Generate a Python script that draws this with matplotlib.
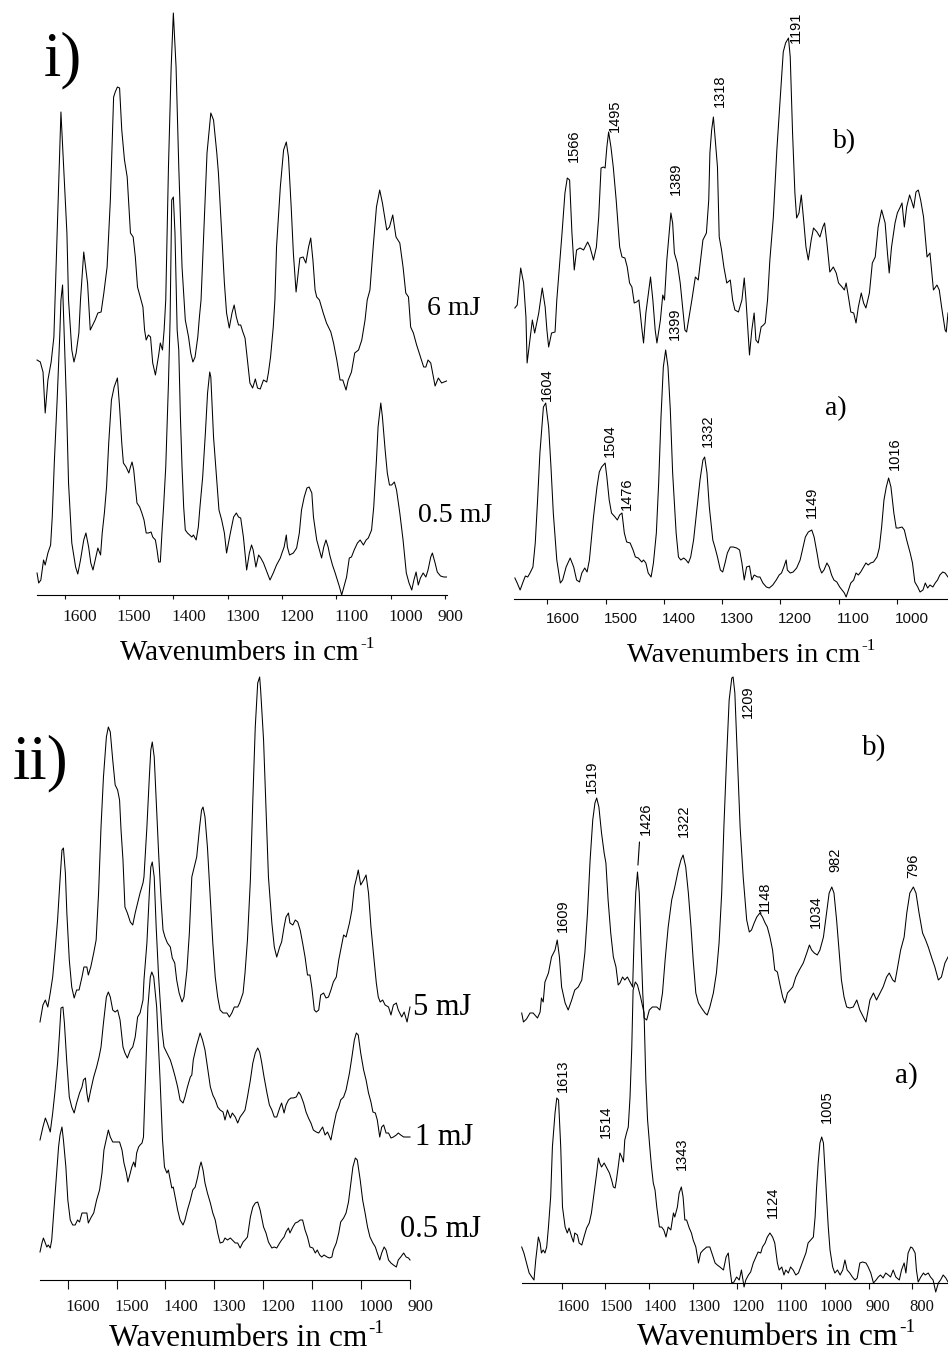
import numpy as np
import matplotlib
matplotlib.use("Agg")
import matplotlib.pyplot as plt
from matplotlib.transforms import ScaledTranslation

plt.rcParams['font.family'] = 'Liberation Serif'

# ---------------- DATA (wavenumber in cm-1, intensity in arbitrary units) ----------------
# panel i), left: two laser energies
i_6mJ = [(1651,53),(1645,51),(1640,41),(1636,0),(1631,33),(1625,51),(1620,76),(1607,301),(1602,246),(1596,180),
         (1593,113),(1587,63),(1583,51),(1579,60),(1574,80),(1571,113),(1565,161),(1558,130),(1553,83),(1544,93),
         (1539,100),(1533,101),(1528,120),(1522,146),(1516,213),(1510,316),(1507,321),(1503,326),(1499,325),(1495,283),
         (1490,253),(1485,236),(1479,180),(1474,176),(1470,156),(1466,126),(1461,116),(1456,106),(1453,83),(1450,73),
         (1446,78),(1442,76),(1438,50),(1433,38),(1427,58),(1424,70),(1420,63),(1417,83),(1414,113),(1409,246),
         (1404,346),(1400,400),(1395,346),(1390,246),(1384,146),(1378,93),(1372,76),(1368,60),(1364,51),(1360,56),
         (1355,76),(1352,96),(1349,113),(1344,180),(1338,260),(1331,300),(1326,293),(1320,260),(1317,240),(1311,180),
         (1306,130),(1302,100),(1297,85),(1292,100),(1288,108),(1284,96),(1280,88),(1276,88),(1272,81),(1268,75),
         (1264,55),(1259,30),(1254,25),(1249,34),(1245,25),(1240,24),(1234,33),(1228,31),(1225,40),(1221,56),
         (1216,86),(1213,113),(1210,166),(1203,226),(1197,263),(1192,271),(1188,256),(1183,206),(1179,160),(1174,121),
         (1170,140),(1167,155),(1161,156),(1156,150),(1151,166),(1147,175),(1143,153),(1139,123),(1136,116),(1131,113),
         (1124,100),(1118,90),(1110,81),(1105,70),(1099,53),(1093,33),(1088,33),(1082,23),(1078,33),(1072,41),
         (1066,60),(1059,63),(1053,73),(1047,93),(1043,113),(1038,123),(1032,166),(1026,206),(1020,223),(1015,210),
         (1007,183),(1002,186),(996,198),(990,176),(983,170),(977,146),(972,120),(967,116),(963,86),(958,80),
         (952,68),(946,58),(939,46),(935,46),(931,53),(926,50),(918,27),(912,35),(906,30),(897,32)]

i_05mJ = [(1651,22),(1648,12),(1644,15),(1639,35),(1636,30),(1631,42),(1626,50),(1623,78),(1619,135),(1614,195),
          (1609,262),(1607,295),(1604,310),(1597,195),(1593,112),(1587,52),(1580,28),(1576,21),(1571,35),(1565,55),
          (1561,62),(1556,48),(1552,32),(1548,25),(1544,35),(1539,47),(1534,40),(1531,62),(1527,82),(1523,108),
          (1519,152),(1514,195),(1509,208),(1503,217),(1499,188),(1495,152),(1492,132),(1487,128),(1482,122),(1479,128),
          (1476,133),(1473,125),(1470,108),(1467,92),(1462,88),(1458,82),(1454,75),(1450,62),(1446,62),(1441,63),
          (1438,58),(1433,55),(1430,45),(1427,33),(1424,33),(1421,62),(1418,88),(1414,128),(1409,212),(1406,275),
          (1403,395),(1400,398),(1397,362),(1393,265),(1390,245),(1387,178),(1384,128),(1381,88),(1378,65),(1374,62),
          (1370,60),(1366,58),(1363,60),(1358,55),(1354,68),(1351,88),(1346,118),(1341,162),(1337,202),(1333,223),
          (1331,218),(1326,158),(1320,115),(1316,85),(1311,75),(1306,62),(1302,42),(1295,62),(1289,78),(1284,82),
          (1280,78),(1276,77),(1271,58),(1265,25),(1260,42),(1256,50),(1253,45),(1248,28),(1243,40),(1239,37),
          (1234,32),(1229,25),(1222,15),(1216,22),(1210,30),(1203,37),(1200,42),(1196,48),(1192,60),(1190,48),
          (1186,40),(1179,42),(1173,47),(1168,62),(1164,85),(1159,98),(1154,107),(1150,108),(1145,102),(1142,78),
          (1136,55),(1131,45),(1127,37),(1123,48),(1119,55),(1115,48),(1112,40),(1107,30),(1102,22),(1098,15),
          (1094,8),(1090,0),(1086,8),(1081,18),(1076,37),(1072,38),(1067,45),(1061,52),(1056,55),(1050,50),
          (1045,55),(1041,57),(1035,65),(1031,88),(1026,135),(1023,168),(1018,192),(1015,178),(1010,145),(1006,122),
          (1002,110),(998,110),(993,113),(989,105),(983,82),(977,55),(971,22),(966,12),(961,5),(957,15),
          (953,23),(949,10),(945,17),(940,22),(935,18),(931,25),(926,38),(923,42),(918,32),(914,23),
          (908,19),(902,18),(897,18)]

# top right: b) and a)
ir_b = [(1656,55),(1652,58),(1646,95),(1641,80),(1637,46),(1635,0),(1626,43),(1622,30),(1615,50),(1609,75),
        (1604,56),(1601,33),(1598,16),(1593,30),(1587,31),(1584,63),(1575,130),(1570,170),(1566,185),(1562,183),
        (1558,130),(1554,93),(1550,113),(1544,115),(1538,113),(1531,121),(1527,116),(1521,103),(1516,116),(1512,146),
        (1508,195),(1504,196),(1501,195),(1498,216),(1495,231),(1491,216),(1487,196),(1482,163),(1476,116),(1472,106),
        (1467,105),(1463,96),(1459,80),(1455,76),(1451,60),(1447,61),(1443,63),(1438,35),(1435,20),(1431,50),
        (1423,86),(1419,63),(1415,33),(1412,20),(1406,43),(1402,68),(1399,63),(1395,103),(1388,150),(1385,140),
        (1382,110),(1377,100),(1372,80),(1368,56),(1364,33),(1361,31),(1352,63),(1346,86),(1341,83),(1333,123),
        (1327,130),(1323,163),(1321,210),(1318,233),(1315,246),(1308,196),(1305,126),(1301,113),(1297,96),(1292,80),
        (1286,83),(1282,63),(1278,53),(1272,51),(1266,63),(1262,85),(1259,63),(1253,8),(1249,33),(1245,50),
        (1242,23),(1238,20),(1233,36),(1229,38),(1226,40),(1222,63),(1218,103),(1212,146),(1206,213),(1199,276),
        (1195,311),(1191,320),(1186,325),(1183,306),(1179,230),(1175,170),(1172,145),(1168,150),(1164,168),(1160,143),
        (1156,116),(1152,103),(1147,123),(1143,135),(1137,131),(1132,126),(1127,136),(1124,140),(1120,120),(1115,91),
        (1109,96),(1104,90),(1100,80),(1094,76),(1090,73),(1087,80),(1083,66),(1079,51),(1074,50),(1070,40),
        (1066,56),(1061,70),(1057,60),(1053,55),(1047,70),(1042,100),(1037,106),(1032,136),(1026,153),(1020,140),
        (1016,110),(1013,90),(1009,116),(1003,140),(999,150),(994,156),(991,160),(987,136),(983,156),(978,168),
        (974,161),(971,155),(967,171),(963,173),(959,163),(954,146),(948,106),(943,110),(937,73),(931,78),
        (927,73),(923,56),(917,33),(915,31),(912,50)]

ir_a = [(1656,21),(1652,16),(1647,9),(1642,17),(1638,23),(1634,22),(1630,26),(1625,32),(1621,56),(1617,99),
        (1613,146),(1607,192),(1603,196),(1598,172),(1594,132),(1590,86),(1584,39),(1578,16),(1574,19),(1568,32),
        (1561,41),(1555,32),(1550,19),(1545,17),(1541,26),(1536,31),(1532,27),(1528,39),(1521,82),(1515,112),
        (1511,127),(1507,132),(1501,136),(1498,122),(1494,99),(1490,86),(1484,82),(1480,79),(1476,84),(1472,86),
        (1468,66),(1464,57),(1458,56),(1453,49),(1449,42),(1444,41),(1438,37),(1435,39),(1431,36),(1427,26),
        (1422,22),(1418,36),(1413,66),(1409,116),(1405,182),(1401,232),(1397,249),(1393,232),(1389,189),(1385,126),
        (1379,66),(1375,42),(1371,39),(1366,41),(1362,39),(1358,36),(1354,42),(1349,59),(1344,86),(1338,119),
        (1333,139),(1330,142),(1326,126),(1322,92),(1316,59),(1312,51),(1308,42),(1303,29),(1299,27),(1295,36),
        (1291,46),(1286,52),(1281,52),(1275,51),(1270,49),(1266,36),(1262,19),(1258,32),(1253,33),(1249,19),
        (1245,24),(1239,22),(1235,22),(1230,16),(1224,12),(1219,11),(1213,14),(1207,19),(1202,24),(1198,26),
        (1194,32),(1190,39),(1188,29),(1183,26),(1178,27),(1172,31),(1166,39),(1161,52),(1157,62),(1152,67),
        (1146,69),(1142,62),(1137,46),(1133,32),(1129,26),(1125,29),(1120,36),(1116,32),(1112,24),(1108,19),
        (1103,17),(1098,12),(1094,9),(1090,6),(1087,2),(1083,9),(1079,16),(1074,19),(1070,26),(1066,24),
        (1062,27),(1057,32),(1053,36),(1049,34),(1045,36),(1040,37),(1034,42),(1030,51),(1026,72),(1022,99),
        (1018,112),(1014,121),(1010,112),(1005,86),(1001,71),(997,71),(991,72),(987,69),(983,59),(977,46),
        (973,36),(969,17),(964,12),(960,7),(955,9),(951,16),(947,11),(943,14),(938,12),(934,16),
        (930,19),(926,24),(921,27),(917,26),(912,22)]

# panel ii), left: three laser energies
ii_5mJ = [(1657,0),(1651,17),(1646,22),(1644,19),(1641,15),(1636,29),(1631,45),(1626,72),(1621,102),(1616,142),
          (1612,172),(1609,174),(1605,149),(1602,109),(1597,62),(1592,35),(1587,24),(1582,32),(1577,32),(1571,45),
          (1567,55),(1561,55),(1558,47),(1553,55),(1547,69),(1542,82),(1537,129),(1532,195),(1527,245),(1521,285),
          (1517,295),(1513,290),(1508,262),(1503,237),(1498,232),(1494,222),(1491,192),(1487,162),(1483,115),(1478,109),
          (1472,100),(1467,97),(1462,109),(1457,119),(1452,129),(1446,139),(1444,145),(1438,195),(1433,245),(1430,272),
          (1427,280),(1423,265),(1419,222),(1414,169),(1409,122),(1405,92),(1401,85),(1396,79),(1390,75),(1386,64),
          (1381,59),(1377,42),(1372,29),(1366,20),(1362,25),(1356,52),(1351,89),(1346,145),(1341,155),(1336,165),
          (1330,195),(1326,212),(1323,215),(1319,205),(1314,175),(1308,122),(1303,79),(1298,45),(1293,25),(1288,12),
          (1282,9),(1274,9),(1269,5),(1264,9),(1259,15),(1252,15),(1248,19),(1241,29),(1237,49),(1232,82),
          (1226,142),(1221,222),(1216,295),(1211,339),(1207,345),(1205,332),(1199,282),(1194,212),(1189,145),(1182,99),
          (1177,75),(1172,65),(1166,75),(1162,80),(1157,95),(1153,105),(1148,109),(1145,99),(1139,97),(1134,102),
          (1129,100),(1124,92),(1119,79),(1114,65),(1109,47),(1104,47),(1100,34),(1095,12),(1091,10),(1086,12),
          (1082,27),(1076,29),(1071,24),(1066,25),(1061,32),(1056,40),(1050,45),(1045,62),(1041,72),(1035,87),
          (1030,85),(1023,99),(1018,112),(1013,135),(1008,145),(1005,152),(1000,137),(994,142),(989,147),(984,129),
          (979,95),(974,69),(968,39),(964,25),(960,20),(955,22),(950,17),(943,15),(938,7),(933,17),
          (927,19),(923,12),(916,5),(911,10),(905,0),(899,15)]

ii_1mJ = [(1657,0),(1651,13),(1646,22),(1642,17),(1636,8),(1631,27),(1626,50),(1621,77),(1617,107),(1614,132),
          (1610,133),(1607,117),(1602,77),(1597,43),(1592,33),(1587,27),(1582,37),(1576,47),(1571,53),(1568,60),
          (1564,62),(1561,47),(1558,38),(1553,50),(1547,63),(1541,73),(1536,83),(1532,93),(1527,117),(1521,143),
          (1517,148),(1513,143),(1508,130),(1503,128),(1498,130),(1493,120),(1487,93),(1483,87),(1478,82),(1472,90),
          (1467,93),(1462,103),(1457,123),(1452,127),(1446,140),(1444,160),(1438,197),(1433,247),(1430,273),(1427,278),
          (1423,263),(1419,213),(1414,163),(1407,110),(1403,93),(1397,87),(1390,80),(1385,72),(1380,63),(1375,53),
          (1370,40),(1364,37),(1360,43),(1355,53),(1349,63),(1346,65),(1343,80),(1337,93),(1332,102),(1329,107),
          (1324,100),(1319,90),(1314,73),(1308,53),(1303,45),(1298,40),(1293,33),(1288,30),(1282,28),(1278,20),
          (1273,30),(1267,22),(1263,27),(1257,23),(1252,17),(1247,23),(1241,27),(1237,30),(1232,43),(1226,60),
          (1221,77),(1216,87),(1211,92),(1207,88),(1203,78),(1198,63),(1192,47),(1187,35),(1182,30),(1177,23),
          (1172,23),(1166,32),(1162,37),(1157,27),(1153,35),(1148,40),(1143,42),(1138,42),(1132,43),(1127,48),
          (1123,45),(1117,37),(1112,28),(1107,22),(1102,17),(1097,10),(1091,8),(1086,7),(1082,10),(1078,13),
          (1073,5),(1068,8),(1061,0),(1056,13),(1050,27),(1045,33),(1041,40),(1035,43),(1030,50),(1023,67),
          (1018,83),(1013,100),(1009,107),(1005,105),(1000,87),(994,70),(989,60),(984,47),(979,38),(975,28),
          (970,27),(966,20),(961,3),(957,13),(953,15),(948,7),(943,7),(938,2),(933,3),(927,5),
          (923,7),(918,5),(912,3),(899,3)]

ii_05mJ = [(1657,15),(1653,24),(1650,29),(1646,24),(1643,20),(1640,22),(1636,19),(1633,27),(1629,54),(1624,87),
           (1619,120),(1616,132),(1612,140),(1609,127),(1604,100),(1600,67),(1595,47),(1590,42),(1585,42),(1580,47),
           (1576,45),(1571,54),(1567,54),(1561,54),(1558,44),(1553,49),(1547,54),(1541,67),(1535,77),(1530,94),
           (1526,117),(1520,130),(1517,137),(1513,130),(1508,125),(1501,125),(1494,125),(1489,117),(1485,104),(1480,94),
           (1477,85),(1472,94),(1469,100),(1465,105),(1462,100),(1459,114),(1455,120),(1452,122),(1448,124),(1445,130),
           (1441,187),(1436,260),(1431,290),(1428,295),(1424,290),(1418,260),(1411,187),(1406,127),(1402,100),(1397,94),
           (1394,97),(1390,87),(1387,79),(1384,80),(1380,70),(1375,57),(1370,47),(1364,42),(1360,47),(1355,57),
           (1349,67),(1344,77),(1339,80),(1334,90),(1330,100),(1327,105),(1323,97),(1319,84),(1314,74),(1308,64),
           (1303,54),(1298,47),(1293,34),(1288,24),(1282,25),(1278,29),(1273,27),(1267,29),(1263,27),(1257,24),
           (1252,24),(1247,19),(1241,25),(1237,27),(1232,30),(1226,50),(1221,60),(1216,64),(1211,65),(1206,57),
           (1199,40),(1194,34),(1189,25),(1182,19),(1177,20),(1172,19),(1166,24),(1162,27),(1157,30),(1153,35),
           (1148,39),(1145,34),(1139,40),(1134,44),(1129,45),(1124,47),(1119,47),(1114,37),(1109,30),(1104,20),
           (1098,19),(1093,14),(1089,17),(1084,12),(1080,10),(1075,12),(1069,10),(1064,9),(1059,10),(1056,17),
           (1050,24),(1045,34),(1041,45),(1035,49),(1030,54),(1025,65),(1020,84),(1016,100),(1011,109),(1007,107),
           (1001,87),(996,67),(991,54),(986,40),(981,30),(975,24),(970,20),(966,14),(961,7),(957,14),
           (952,20),(948,17),(943,7),(938,4),(933,2),(927,0),(923,7),(918,10),(912,14),(907,10),
           (902,9),(899,7)]

# bottom right: b) and a)
iir_b = [(1691,9),(1687,0),(1680,3),(1672,9),(1665,9),(1655,4),(1649,10),(1646,24),(1642,20),(1638,40),
         (1630,49),(1623,65),(1615,72),(1610,82),(1605,65),(1600,35),(1592,19),(1585,12),(1577,22),(1570,32),
         (1562,35),(1554,42),(1547,69),(1541,109),(1535,162),(1529,202),(1524,219),(1520,224),(1515,215),(1509,189),
         (1503,169),(1499,159),(1494,122),(1488,89),(1482,65),(1476,55),(1471,37),(1467,39),(1461,45),(1456,42),
         (1450,45),(1444,40),(1438,35),(1434,95),(1431,129),(1427,150),(1423,129),(1419,79),(1415,29),(1412,4),
         (1406,2),(1400,12),(1393,15),(1383,15),(1376,12),(1370,29),(1364,62),(1357,95),(1349,122),(1342,135),
         (1334,152),(1328,162),(1323,167),(1317,155),(1311,129),(1305,95),(1300,62),(1294,29),(1288,19),(1281,14),
         (1273,9),(1268,7),(1262,15),(1254,29),(1247,49),(1241,79),(1235,129),(1230,195),(1224,262),(1218,322),
         (1212,344),(1209,345),(1205,329),(1199,262),(1193,195),(1186,145),(1178,102),(1172,90),(1167,92),(1161,99),
         (1155,105),(1148,109),(1142,105),(1136,99),(1131,95),(1125,85),(1119,72),(1114,52),(1108,50),(1102,37),
         (1096,25),(1091,19),(1085,29),(1079,32),(1073,35),(1066,45),(1058,52),(1049,59),(1041,69),(1035,77),
         (1030,72),(1024,69),(1017,67),(1011,72),(1003,85),(996,109),(990,129),(984,135),(979,129),(973,102),
         (967,69),(962,42),(956,25),(950,15),(943,14),(935,15),(927,22),(920,12),(912,5),(906,0),
         (897,22),(889,29),(882,22),(874,29),(867,35),(859,45),(853,49),(845,42),(840,40),(835,52),
         (827,72),(819,85),(813,109),(806,129),(798,135),(792,129),(785,109),(777,89),(770,82),(764,75),
         (756,64),(749,55),(741,42),(734,45),(726,59),(719,65)]

iir_a = [(1691,45),(1686,39),(1680,29),(1674,19),(1668,15),(1663,12),(1659,32),(1653,55),(1649,49),(1646,39),
         (1642,42),(1638,39),(1634,45),(1630,65),(1625,95),(1621,145),(1615,179),(1611,194),(1607,192),(1602,145),
         (1598,85),(1592,65),(1587,59),(1583,64),(1577,55),(1573,50),(1570,59),(1564,57),(1560,49),(1554,47),
         (1549,55),(1543,64),(1537,69),(1532,79),(1526,99),(1520,119),(1516,134),(1513,129),(1509,125),(1503,129),
         (1497,124),(1491,119),(1486,112),(1482,105),(1478,104),(1475,112),(1471,125),(1467,139),(1463,135),(1459,130),
         (1456,152),(1452,159),(1448,165),(1444,195),(1440,245),(1437,302),(1432,310),(1427,307),(1420,295),(1415,285),
         (1412,279),(1408,212),(1404,172),(1399,145),(1395,125),(1391,109),(1387,102),(1383,85),(1377,65),(1372,65),
         (1367,62),(1362,55),(1357,65),(1351,62),(1345,79),(1342,75),(1336,85),(1332,99),(1327,105),(1323,95),
         (1319,72),(1315,72),(1309,64),(1304,59),(1300,52),(1294,45),(1288,29),(1283,39),(1277,42),(1269,45),
         (1262,45),(1256,37),(1250,29),(1245,27),(1239,25),(1231,22),(1225,35),(1220,39),(1216,22),(1212,9),
         (1207,10),(1201,15),(1195,12),(1190,22),(1184,5),(1180,12),(1174,17),(1169,20),(1163,29),(1157,35),
         (1152,40),(1146,39),(1142,45),(1136,49),(1131,55),(1125,59),(1119,55),(1114,49),(1108,29),(1104,22),
         (1098,25),(1093,17),(1089,22),(1083,19),(1078,25),(1072,22),(1066,17),(1060,19),(1055,25),(1049,32),
         (1043,39),(1038,49),(1032,52),(1026,55),(1022,75),(1019,102),(1015,129),(1011,149),(1007,155),(1003,149),
         (1000,125),(996,95),(992,65),(988,42),(982,25),(977,19),(971,22),(965,17),(959,22),(954,32),
         (949,22),(943,19),(937,15),(931,12),(926,14),(920,29),(914,30),(906,29),(901,25),(895,19),
         (889,9),(883,12),(878,15),(873,17),(867,14),(861,19),(855,17),(850,15),(844,22),(838,15),
         (830,12),(825,22),(819,29),(815,19),(810,39),(804,45),(800,44),(794,39),(791,22),(787,10),
         (781,15),(775,19),(771,17),(764,19),(759,15),(753,12),(747,0),(741,9),(736,12),(730,17),
         (724,14),(719,10)]

# peak labels (label text, and the wavenumber of the drawn peak it sits on)
ir_b_peaks = [1566, 1495, 1389, 1318, 1191]
ir_a_peaks = [1604, 1504, 1476, 1399, 1332, 1149, 1016]
iir_b_peaks = [1609, 1519, 1426, 1322, 1209, 1148, 1034, 982, 796]
iir_a_peaks = [1613, 1514, 1343, 1124, 1005]
peak_anchor = {1343: 1327}

# ---------------- LAYOUT (pixels of the 948x1351 figure) ----------------
W, H = 948, 1351
fig = plt.figure(figsize=(W / 100, H / 100), dpi=100)


def panel(x0, x1, y_top, y_axis, xlim, ticks, tick_len, tfont, tsize, shift4, shift3, pad):
    ax = fig.add_axes([x0 / W, 1 - y_axis / H, (x1 - x0) / W, (y_axis - y_top) / H])
    ax.set_xlim(*xlim)
    ax.set_ylim(0, y_axis - y_top)   # 1 intensity unit = 1 pixel
    for s in ['left', 'right', 'top']:
        ax.spines[s].set_visible(False)
    ax.spines['bottom'].set_linewidth(0.8)
    ax.set_yticks([])
    ax.set_xticks(ticks)
    ax.set_xticklabels([str(t) for t in ticks])
    ax.tick_params(axis='x', direction='out', length=tick_len * 0.72, width=0.8,
                   pad=pad, labelsize=tsize, colors='#111111')
    for lab in ax.get_xticklabels():
        lab.set_fontfamily(tfont)
        dx = shift4 if len(lab.get_text()) == 4 else shift3
        lab.set_transform(lab.get_transform() + ScaledTranslation(dx / 100, 0, fig.dpi_scale_trans))
    ax.patch.set_visible(False)
    return ax


def spectrum(ax, pts, offset):
    wn, val = np.array(pts, dtype=float).T
    ax.plot(wn, val + offset, color='black', lw=0.75, clip_on=False)
    return wn, val + offset


def peak_labels(ax, wn, y, peaks, shifts, special=None):
    special = special or {}
    for p, (dx, dy) in zip(peaks, shifts):
        target = peak_anchor.get(p, p)
        m = np.abs(wn - target) <= 6
        k = np.argmax(np.where(m, y, -1e9))
        va = special.get(p, 'bottom')
        ax.annotate(str(p), xy=(wn[k], y[k]), xytext=(dx, dy), textcoords='offset pixels',
                    rotation=90, ha='center', va=va, fontsize=10.5, family='Liberation Sans')
        if p == 1426:
            ax.annotate('', xy=(wn[k], y[k]), xytext=(2, 30), textcoords='offset pixels',
                        arrowprops=dict(arrowstyle='-', lw=0.8, shrinkA=0, shrinkB=5))


def ftext(x, y, s, size, **kw):
    fig.text(x / W, 1 - y / H, s, fontsize=size, **kw)


def wavenumber_label(x_end, baseline, size):
    # "Wavenumbers in cm" with a small raised "-1"
    ftext(x_end, baseline, 'Wavenumbers in cm', size, ha='right', va='baseline')
    ftext(x_end + 1, baseline - size * 0.58, '-1', size * 0.6, ha='left', va='baseline')


# panel i) left
ax1 = panel(36.5, 446.5, 0, 595, (1652, 897), range(1600, 899, -100), 4, 'Liberation Serif', 12.5, 15, 6, 7.5)
spectrum(ax1, i_6mJ, 182)
spectrum(ax1, i_05mJ, 0)
ftext(44, 75, 'i)', 45, va='baseline')
ftext(427, 315, '6 mJ', 20, va='baseline')
ftext(418, 522, '0.5 mJ', 20, va='baseline')
wavenumber_label(359, 660, 21)

# panel i) right
ax2 = panel(514.3, 948, 0, 599, (1657, 912), range(1600, 999, -100), 5, 'Liberation Sans', 11, 15, 15, 6)
wb, yb = spectrum(ax2, ir_b, 236)
wa, ya = spectrum(ax2, ir_a, 0)
peak_labels(ax2, wb, yb, ir_b_peaks, [(7, 16), (6, 0), (5, 18), (6, 10), (7, -5)])
peak_labels(ax2, wa, ya, ir_a_peaks, [(1, 2), (5, 6), (5, 3), (9, 10), (3, 10), (0, 12), (6, 8)])
ftext(833, 148, 'b)', 20, va='baseline')
ftext(825, 415, 'a)', 20, va='baseline')
wavenumber_label(860, 662, 20.5)

# panel ii) left
ax3 = panel(40, 410, 665, 1280, (1657, 899), range(1600, 899, -100), 9, 'Liberation Serif', 12.5, 15, 11, 7.5)
spectrum(ax3, ii_5mJ, 258)
spectrum(ax3, ii_1mJ, 140)
spectrum(ax3, ii_05mJ, 13)
ftext(13, 778, 'ii)', 45, va='baseline')
ftext(413, 1015, '5 mJ', 22, va='baseline')
ftext(415, 1145, '1 mJ', 22, va='baseline')
ftext(400, 1237, '0.5 mJ', 22, va='baseline')
wavenumber_label(367, 1346, 22.7)

# panel ii) right
ax4 = panel(521.7, 948, 665, 1282.7, (1691, 719), range(1600, 799, -100), 6, 'Liberation Serif', 12, 11, 9, 7.5)
wb, yb = spectrum(ax4, iir_b, 260.7)
wa, ya = spectrum(ax4, iir_a, -9.3)
peak_labels(ax4, wb, yb, iir_b_peaks,
            [(6, 8), (-5, 5), (8, 37), (1, 18), (15, -8), (5, 0), (6, 17), (4, 15), (0, 9)],
            special={1209: 'top'})
peak_labels(ax4, wa, ya, iir_a_peaks, [(6, 6), (7, 20), (1, 17), (3, 15), (5, 14)])
ftext(862, 755, 'b)', 21, va='baseline')
ftext(895, 1083, 'a)', 21, va='baseline')
wavenumber_label(898, 1345, 22.9)

fig.savefig('out.png', dpi=100)
